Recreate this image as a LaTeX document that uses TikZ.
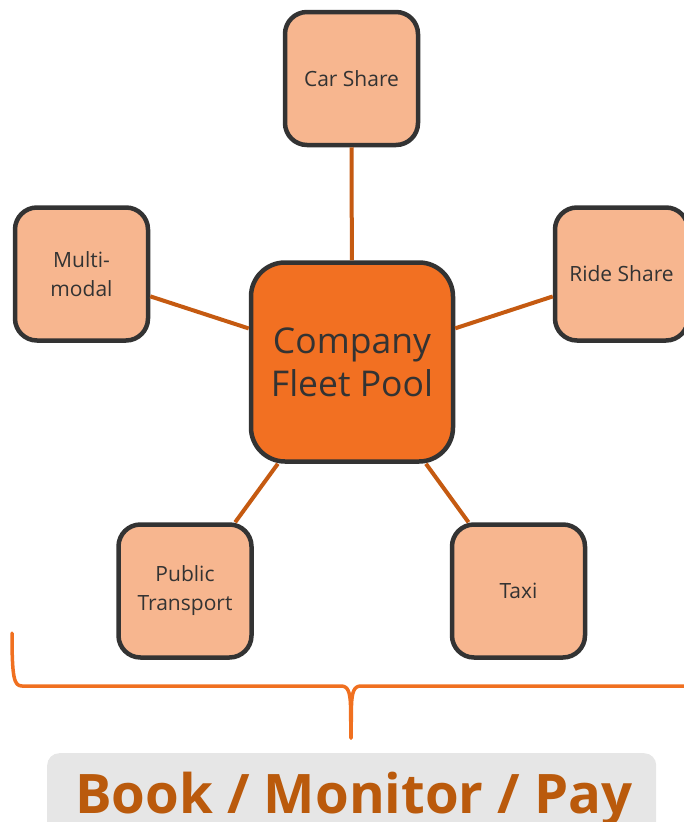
\documentclass[tikz,border=0pt]{standalone}
\usepackage{fontspec}
\setmainfont{Open Sans}
\definecolor{lightbox}{HTML}{F7B68F}
\definecolor{mainbox}{HTML}{F27022}
\definecolor{edgegrey}{HTML}{333333}
\definecolor{linkcol}{HTML}{C55A11}
\definecolor{bracecol}{HTML}{F07020}
\definecolor{bargrey}{HTML}{E6E6E6}
\definecolor{bartext}{HTML}{BA5A0C}
\tikzset{
  smallbox/.style={draw=edgegrey, line width=4.5pt, fill=lightbox, rounded corners=22pt,
    minimum width=133pt, minimum height=133pt, inner sep=0pt, align=center,
    text=edgegrey, font=\fontsize{21}{29}\selectfont},
  bigbox/.style={draw=edgegrey, line width=4.5pt, fill=mainbox, rounded corners=34pt,
    minimum width=202pt, minimum height=199pt, inner sep=0pt, align=center,
    text=edgegrey, font=\fontsize{35.5}{43}\selectfont},
  link/.style={draw=linkcol, line width=4pt},
  bracepath/.style={draw=bracecol, line width=3.5pt, line cap=round, line join=round}
}
\begin{document}
\begin{tikzpicture}[x=1pt,y=-1pt]
\useasboundingbox (0,0) rectangle (684,822);
\clip (0,0) rectangle (684,822);
% bottom bar
\node[fill=bargrey, rounded corners=12pt, minimum width=609pt, minimum height=100pt, inner sep=0pt, anchor=north west] (bar) at (47,753) {};
\node[anchor=base, text=bartext, font=\fontsize{54.5}{60}\selectfont\bfseries, inner sep=0pt] (bartxt) at (354,813) {Book / Monitor / Pay};
% nodes
\node[bigbox] (center) at (352,362) {Company\\Fleet Pool};
\node[smallbox] (car) at (351.5,78.5) {Car Share};
\node[smallbox] (multi) at (81.5,274) {Multi-\\modal};
\node[smallbox] (ride) at (621.5,274) {Ride Share};
\node[smallbox] (pub) at (185,591) {Public\\Transport};
\node[smallbox] (taxi) at (518.5,591) {Taxi};
% connectors
\draw[link] (car) -- (center);
\draw[link] (multi) -- (center);
\draw[link] (ride) -- (center);
\draw[link] (pub) -- (center);
\draw[link] (taxi) -- (center);
% brace
\coordinate (bl) at (12,633);
\coordinate (btip) at (351,738);
\coordinate (br) at (690,686);
\draw[bracepath] (bl) .. controls (12,678) and (14,686) .. (22,686) -- (341,686)
  .. controls (348,686) and (350,692) .. (350.5,705) -- (btip);
\draw[bracepath] (br) -- (361,686)
  .. controls (354,686) and (352,692) .. (351.5,705) -- (btip);
\end{tikzpicture}
\end{document}
